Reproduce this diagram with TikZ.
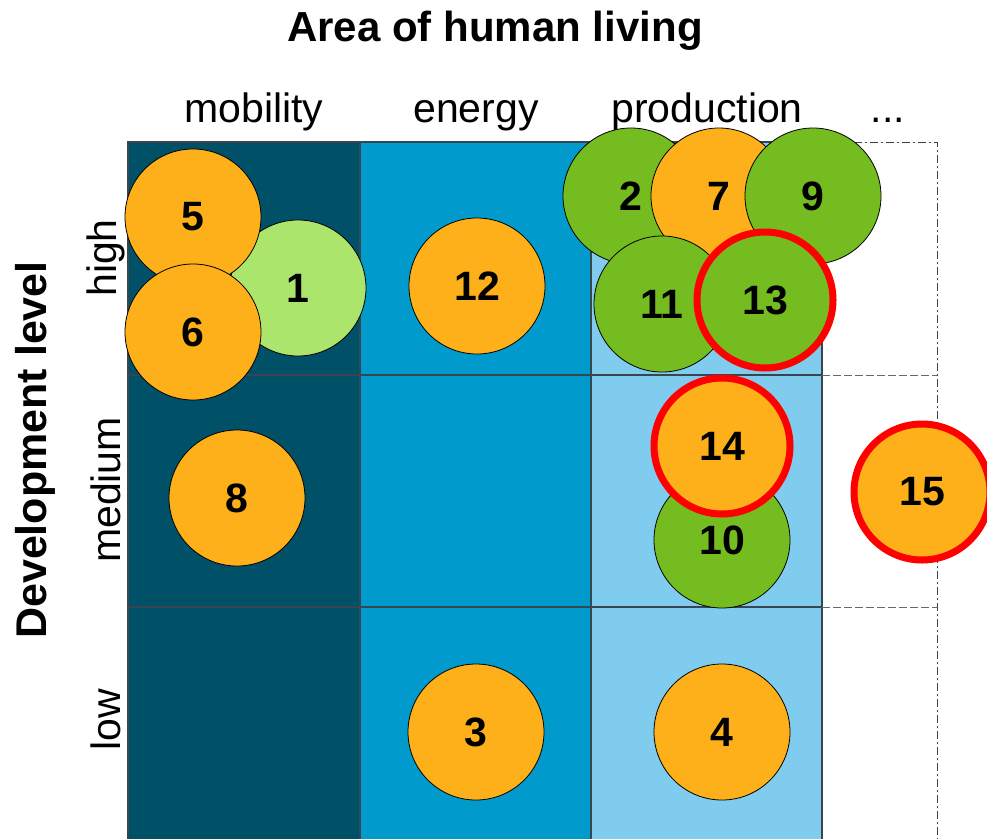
\documentclass[tikz,border=0pt]{standalone}
\usepackage{fontspec}
\setmainfont{Liberation Sans}
\definecolor{mob}{RGB}{0,80,104}
\definecolor{ene}{RGB}{0,155,204}
\definecolor{pro}{RGB}{127,204,238}
\definecolor{org}{RGB}{253,176,25}
\definecolor{grn}{RGB}{116,188,31}
\definecolor{lgrn}{RGB}{172,229,108}
\definecolor{gridc}{RGB}{55,70,80}
\begin{document}
\begin{tikzpicture}[x=1pt,y=-1pt,
  bubble/.style={circle,draw=black,line width=0.8pt,minimum size=136pt,inner sep=0pt,
    font=\fontsize{41}{49}\selectfont\bfseries},
  ring/.style={draw=red,line width=7pt},
  orange/.style={bubble,fill=org},
  green/.style={bubble,fill=grn},
  lgreen/.style={bubble,fill=lgrn},
  header/.style={anchor=base,font=\fontsize{41}{49}\selectfont},
  rowlab/.style={rotate=90,font=\fontsize{41}{49}\selectfont},
  gridline/.style={draw=gridc,line width=1.2pt},
  dashline/.style={draw=gridc!80,line width=1pt,dash pattern=on 8pt off 3pt},
  dashdot/.style={draw=gridc,line width=1pt,dash pattern=on 8pt off 3pt on 2pt off 3pt}]
\path[use as bounding box,fill=white] (0,0) rectangle (987,839);
% columns
\fill[mob] (128,142) rectangle (360,839);
\fill[ene] (360,142) rectangle (591,839);
\fill[pro] (591,142) rectangle (822,839);
% grid
\draw[gridline] (128,839) -- (128,142) -- (822,142) -- (822,839);
\draw[gridline] (360,142) -- (360,839);
\draw[gridline] (591,142) -- (591,839);
\draw[gridline] (128,375) -- (822,375);
\draw[gridline] (128,607) -- (822,607);
\draw[dashdot] (822,142) -- (937,142) -- (937,839);
\draw[dashline] (822,375) -- (937,375);
\draw[dashline] (822,607) -- (937,607);
% texts
\node[anchor=base,font=\fontsize{42}{50}\selectfont\bfseries] (title) at (495,41) {Area of human living};
\node[header] (hmob) at (254,122) {mobility};
\node[header] (hene) at (476,122) {energy};
\node[header] (hpro) at (707,122) {production};
\node[header] (hdots) at (888,122) {...};
\node[rotate=90,font=\fontsize{43}{51}\selectfont\bfseries] (dev) at (35,450) {Development level};
\node[rowlab] (rhigh) at (106,258) {high};
\node[rowlab] (rmed) at (106,490) {medium};
\node[rowlab] (rlow) at (106,720) {low};
% bubbles
\node[lgreen] (c1) at (298,288) {1};
\node[orange] (c5) at (193,217) {5};
\node[orange] (c6) at (193,332) {6};
\node[orange] (c8) at (237,498) {8};
\node[orange] (c12) at (477,286) {12};
\node[orange] (c3) at (476,732) {3};
\node[green] (c2) at (631,196) {2};
\node[orange] (c7) at (719,196) {7};
\node[green] (c9) at (813,196) {9};
\node[green] (c11) at (662,304) {11};
\node[green,ring] (c13) at (765,300) {13};
\node[green] (c10) at (722,540) {10};
\node[orange,ring] (c14) at (722,446) {14};
\node[orange,ring] (c15) at (922,492) {15};
\node[orange] (c4) at (722,732) {4};
\end{tikzpicture}
\end{document}
